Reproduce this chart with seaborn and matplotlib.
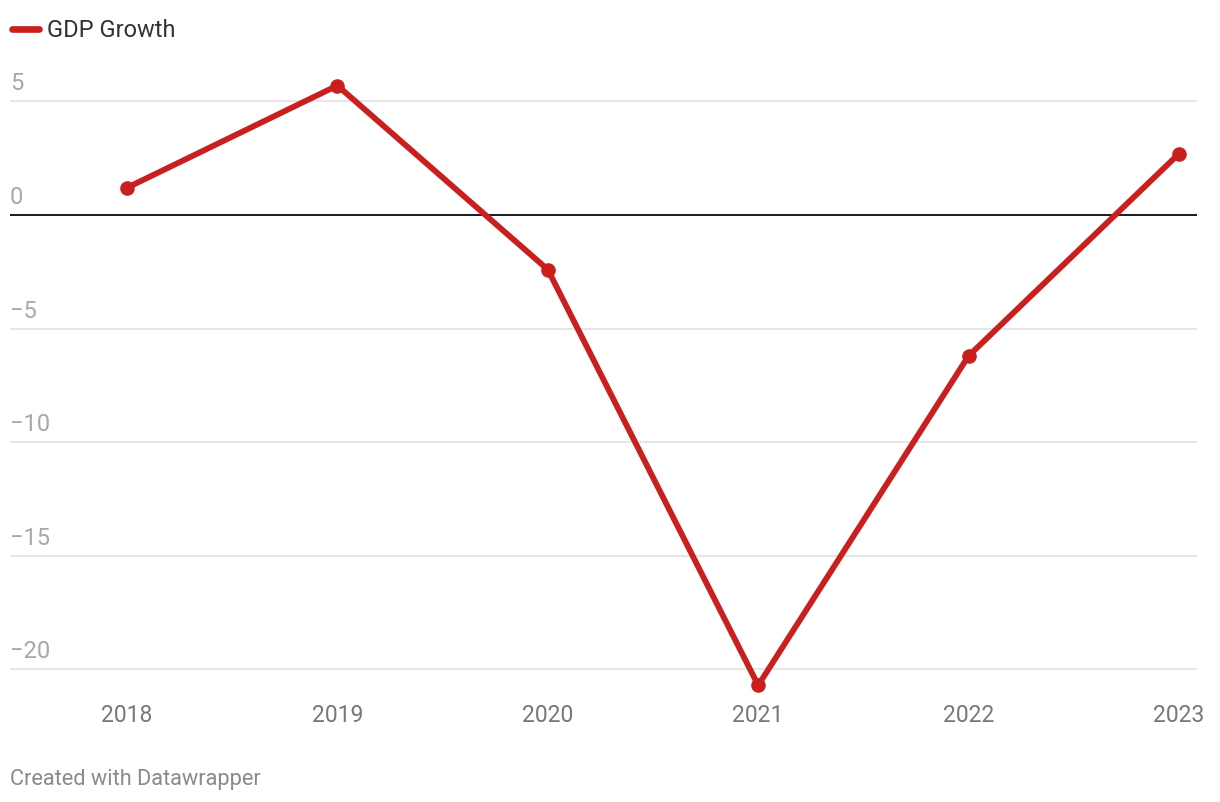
import matplotlib
matplotlib.use("Agg")
import matplotlib.pyplot as plt
import matplotlib.transforms as mtransforms
import seaborn as sns
import pandas as pd

years = [2018, 2019, 2020, 2021, 2022, 2023]
gdp_growth = [1.2, 5.7, -2.4, -20.7, -6.2, 2.7]
y_ticks = [5, 0, -5, -10, -15, -20]
series_name = "GDP Growth"

df = pd.DataFrame({"year": years, "value": gdp_growth})

sns.set_style("white")
plt.rcParams['font.family'] = ['Roboto', 'DejaVu Sans']

RED = "#c91f1f"
W, H = 1220, 802
fig = plt.figure(figsize=(W / 100, H / 100), dpi=100)
ax_left, ax_right = 10, 1197
ax_top, ax_bot = 56, 703.5
ax = fig.add_axes([ax_left / W, 1 - ax_bot / H, (ax_right - ax_left) / W, (ax_bot - ax_top) / H])

sns.lineplot(data=df, x="year", y="value", ax=ax, color=RED, linewidth=4.2,
             marker="o", markersize=10.5, markeredgewidth=0, clip_on=False, zorder=5)

ax.set_xlim(2017.444, 2023.0856)
ax.set_ylim(-21.5, 7)

for t in y_ticks:
    if t == 0:
        ax.axhline(0, color="#1a1a1a", linewidth=1.4, zorder=3)
    else:
        ax.axhline(t, color="#e2e2e2", linewidth=1.2, zorder=1)
    lab = str(t).replace("-", "\u2212")
    trans = mtransforms.offset_copy(ax.get_yaxis_transform(), fig=fig, x=0, y=6, units="dots")
    ax.text(0, t, lab, transform=trans, ha="left", va="bottom", fontsize=17, color="#a8a8a8")

ax.set_yticks([])
ax.set_xticks(years)
ax.set_xticklabels([str(y) for y in years], fontsize=16.5, color="#777777")
ax.tick_params(axis="x", length=0, pad=0)
ax.set_xlabel("")
ax.set_ylabel("")
for s in ax.spines.values():
    s.set_visible(False)

# legend
leg = ax.legend(handles=[plt.Line2D([0], [0], color=RED, linewidth=4.8, solid_capstyle="round")],
                labels=[series_name], loc="upper left", bbox_to_anchor=(12 / W, 1 - 19 / H),
                bbox_transform=fig.transFigure, frameon=False, fontsize=17,
                handlelength=1.15, handletextpad=0.35, borderaxespad=0, borderpad=0)
for txt in leg.get_texts():
    txt.set_color("#333333")

fig.text(10 / W, 1 - 779 / H, "Created with Datawrapper", ha="left", va="center",
         fontsize=15.7, color="#8a8a8a")

fig.savefig("out.png", dpi=100)
